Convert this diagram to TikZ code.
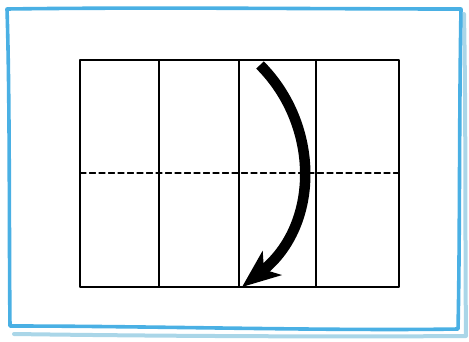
\documentclass[tikz,border=0pt]{standalone}
\usepackage{tikz}
\usetikzlibrary{arrows.meta,calc}
\definecolor{ColFrame}{RGB}{74,176,228}
\definecolor{ColShade}{RGB}{170,214,232}

\begin{document}
\begin{tikzpicture}[
  x=1pt, y=-1pt,
  line cap=round,
  line join=round,
  frame/.style={line width=3.6pt, ColFrame},
  shade/.style={line width=4pt, ColShade},
  grid line/.style={line width=1.1pt, black},
  fold/.style={line width=1.1pt, black, dash pattern=on 6pt off 3.5pt}
]
  \useasboundingbox (0,0) rectangle (469,341);

  % hand drawn frame with its shadow
  \draw[shade] (464,14) .. controls (466,120) and (465,240) .. (466,336)
    .. controls (330,337) and (150,336) .. (14,334);
  \draw[frame] (7,9) .. controls (150,7) and (320,9) .. (461,9)
    .. controls (459,120) and (460,240) .. (458,329)
    .. controls (330,331) and (150,326) .. (10,326)
    .. controls (9,240) and (10,100) .. (7,9) -- cycle;

  % sheet divided into eight panels
  \coordinate (tl) at (80,60);
  \coordinate (br) at (399,287);
  \draw[grid line] (tl) rectangle (br);
  \foreach \xx in {159,239,316}{\draw[grid line] (\xx,60) -- (\xx,287);}
  \draw[fold] (80,173) -- (399,173);

  % folding arrow
  \coordinate (start) at (260,65);
  \coordinate (tip) at (242,287);
  \draw[line width=10.5pt, line cap=butt, -{Stealth[length=38pt,width=30pt,inset=10pt]}]
    (start) .. controls (320,125) and (320,225) .. (tip);
\end{tikzpicture}
\end{document}
